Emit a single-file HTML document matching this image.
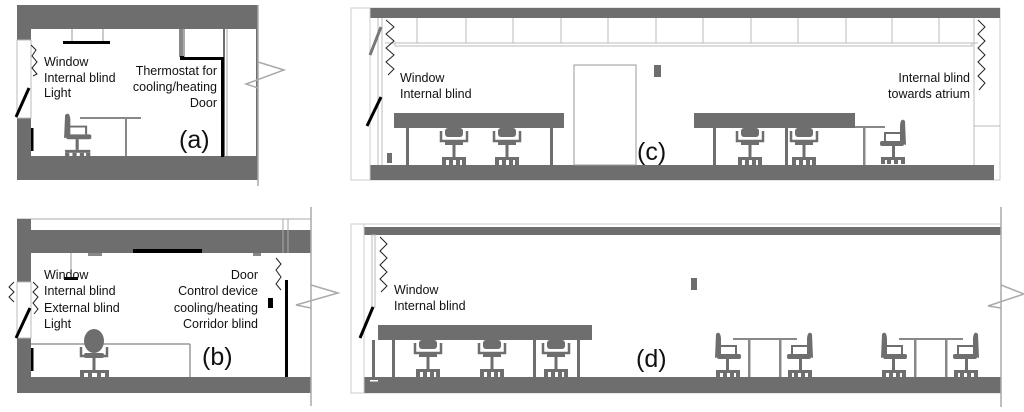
<!DOCTYPE html>
<html><head><meta charset="utf-8"><style>
html,body{margin:0;padding:0;background:#fff;}
svg{display:block;}
text{font-family:"Liberation Sans",Arial,sans-serif;fill:#111;}
.t{font-size:12.5px;}
.L{font-size:25px;}
</style></head><body>
<svg width="1024" height="412" viewBox="0 0 1024 412" xmlns="http://www.w3.org/2000/svg">
<defs>
<g id="cf" fill="#6e6e6e">
<rect x="6" y="0" width="18" height="9" rx="3"/>
<path d="M2,3 L2,13 L28,13 L28,3" fill="none" stroke="#6e6e6e" stroke-width="2.5"/>
<rect x="6" y="12" width="18" height="5"/>
<rect x="13.5" y="17" width="3" height="12"/>
<rect x="3" y="29" width="24" height="3"/>
<rect x="3" y="32" width="4" height="5"/><rect x="10" y="32" width="4" height="5"/><rect x="17" y="32" width="4" height="5"/><rect x="23" y="32" width="4" height="5"/>
</g>
<g id="cs" fill="#6e6e6e">
<path d="M2,2 Q6,-2 7,6 L7,24 L1,26 Z"/>
<path d="M6,14 L22,14 L22,22" fill="none" stroke="#6e6e6e" stroke-width="2"/>
<rect x="3" y="22" width="24" height="5" rx="2"/>
<rect x="12" y="27" width="3" height="11"/>
<rect x="2" y="38" width="24" height="3"/>
<rect x="2" y="41" width="4" height="4"/><rect x="9" y="41" width="4" height="4"/><rect x="16" y="41" width="4" height="4"/><rect x="22" y="41" width="4" height="4"/>
</g>
</defs>

<!-- ===== Panel (a) ===== -->
<rect x="17" y="5" width="241" height="175" fill="#6e6e6e"/>
<rect x="31" y="29" width="192" height="127" fill="#fff"/>
<rect x="225" y="29" width="31" height="127" fill="#fff"/>
<rect x="17" y="40" width="14" height="78" fill="#fff" stroke="#bbb" stroke-width="1"/>
<line x1="258" y1="5" x2="258" y2="186" stroke="#aaa" stroke-width="1.5"/>
<polyline points="258,62 284,70 246,84 258,88" fill="none" stroke="#aaa" stroke-width="1.5"/>
<line x1="72" y1="29" x2="72" y2="42" stroke="#999"/><line x1="103" y1="29" x2="103" y2="42" stroke="#999"/>
<rect x="63" y="41" width="47" height="3" fill="#000"/>
<polyline points="31,45 36,50 32,56 37,62 32,68 37,74 33,76" fill="none" stroke="#222" stroke-width="1"/>
<line x1="29" y1="88" x2="16" y2="117" stroke="#000" stroke-width="3"/>
<rect x="31" y="128" width="2.5" height="23" fill="#000"/>
<rect x="179" y="29" width="4" height="28" fill="#888"/>
<rect x="183" y="29" width="2" height="30" fill="#aaa"/>
<rect x="180" y="56" width="4" height="4" fill="#000"/>
<rect x="184" y="57" width="40" height="3" fill="#000"/>
<rect x="221" y="57" width="3" height="100" fill="#000"/>
<line x1="227" y1="29" x2="227" y2="156" stroke="#aaa"/>
<line x1="80" y1="118" x2="141" y2="118" stroke="#888" stroke-width="2"/>
<line x1="126" y1="118" x2="126" y2="156" stroke="#888" stroke-width="2"/>
<use href="#cs" transform="translate(63,113) scale(1.05,0.97)"/>
<text class="t" x="44" y="66">Window</text>
<text class="t" x="44" y="82">Internal blind</text>
<text class="t" x="44" y="97">Light</text>
<text class="t" x="217" y="75" text-anchor="end">Thermostat for</text>
<text class="t" x="217" y="91" text-anchor="end">cooling/heating</text>
<text class="t" x="217" y="107" text-anchor="end">Door</text>
<text class="L" x="179" y="148">(a)</text>

<!-- ===== Panel (b) ===== -->
<line x1="17" y1="219" x2="311" y2="219" stroke="#aaa"/>
<rect x="17" y="219" width="14" height="174" fill="#6e6e6e"/>
<rect x="31" y="230" width="280" height="23" fill="#6e6e6e"/>
<rect x="17" y="377" width="294" height="16" fill="#6e6e6e"/>
<rect x="17" y="282" width="14" height="56" fill="#fff" stroke="#bbb"/>
<line x1="283" y1="219" x2="283" y2="253" stroke="#aaa"/><line x1="288" y1="219" x2="288" y2="253" stroke="#aaa"/>
<line x1="311" y1="207" x2="311" y2="406" stroke="#aaa" stroke-width="1.5"/>
<polyline points="311,285 338,293 296,305 311,308" fill="none" stroke="#aaa" stroke-width="1.5"/>
<rect x="133" y="249" width="69" height="4" fill="#000"/>
<rect x="88" y="253" width="14" height="3" fill="#888"/><rect x="253" y="253" width="8" height="3" fill="#888"/>
<line x1="71" y1="253" x2="71" y2="277" stroke="#999"/>
<rect x="64" y="277" width="14" height="3" fill="#000"/>
<polyline points="14,282 9,287 14,292 9,297 14,302" fill="none" stroke="#222"/>
<polyline points="33,282 38,287 33,292 38,297 33,303 38,309 34,314" fill="none" stroke="#222"/>
<polyline points="276,258 281,264 276,270 281,277 276,284 281,290" fill="none" stroke="#222"/>
<rect x="285" y="280" width="3" height="97" fill="#000"/>
<rect x="268" y="298" width="5" height="10" fill="#000"/>
<line x1="30" y1="308" x2="16" y2="338" stroke="#000" stroke-width="3"/>
<rect x="31" y="348" width="2.5" height="23" fill="#000"/>
<line x1="31" y1="344" x2="190" y2="344" stroke="#999" stroke-width="1.5"/>
<line x1="190" y1="344" x2="190" y2="377" stroke="#999" stroke-width="1.5"/>
<g fill="#6e6e6e">
<ellipse cx="94" cy="341" rx="10" ry="12"/>
<path d="M81,347 L81,356 L107,356 L107,347" fill="none" stroke="#6e6e6e" stroke-width="2.5"/>
<rect x="84" y="353" width="20" height="5" rx="2"/>
<rect x="92.5" y="358" width="3" height="12"/>
<rect x="80" y="370" width="29" height="3"/>
<rect x="80" y="373" width="4" height="4"/><rect x="88" y="373" width="4" height="4"/><rect x="97" y="373" width="4" height="4"/><rect x="105" y="373" width="4" height="4"/>
</g>
<text class="t" x="44" y="279">Window</text>
<text class="t" x="44" y="295">Internal blind</text>
<text class="t" x="44" y="312">External blind</text>
<text class="t" x="44" y="328">Light</text>
<text class="t" x="258" y="279" text-anchor="end">Door</text>
<text class="t" x="258" y="295" text-anchor="end">Control device</text>
<text class="t" x="258" y="312" text-anchor="end">cooling/heating</text>
<text class="t" x="258" y="328" text-anchor="end">Corridor blind</text>
<text class="L" x="202" y="365">(b)</text>

<!-- ===== Panel (c) ===== -->
<rect x="351" y="8" width="649" height="172" fill="#fff" stroke="#ccc"/>
<rect x="370" y="8" width="630" height="10" fill="#6e6e6e"/>
<rect x="370" y="165" width="624" height="15" fill="#6e6e6e"/>
<line x1="370" y1="8" x2="370" y2="180" stroke="#ccc"/>
<g stroke="#bbb" stroke-width="1">
<line x1="385" y1="43" x2="978" y2="43"/>
<line x1="417" y1="18" x2="417" y2="43"/><line x1="466" y1="18" x2="466" y2="43"/><line x1="513" y1="18" x2="513" y2="43"/><line x1="561" y1="18" x2="561" y2="43"/><line x1="608" y1="18" x2="608" y2="43"/><line x1="656" y1="18" x2="656" y2="43"/><line x1="703" y1="18" x2="703" y2="43"/><line x1="751" y1="18" x2="751" y2="43"/><line x1="798" y1="18" x2="798" y2="43"/><line x1="846" y1="18" x2="846" y2="43"/><line x1="892" y1="18" x2="892" y2="43"/><line x1="939" y1="18" x2="939" y2="43"/>
<line x1="974" y1="18" x2="974" y2="165"/><line x1="974" y1="126" x2="1000" y2="126"/>
<line x1="378" y1="18" x2="378" y2="165"/><line x1="382" y1="18" x2="382" y2="165"/>
</g>
<rect x="395" y="43" width="577" height="3" fill="#fff" stroke="#bbb"/>
<polyline points="386,20 394,27 386,34 394,41 386,48 394,55 386,62 394,69 388,75" fill="none" stroke="#222"/>
<polyline points="978,20 985,27 978,34 985,41 978,48 985,55 978,62 985,69 978,76 985,83 979,90" fill="none" stroke="#222"/>
<line x1="381" y1="27" x2="370" y2="55" stroke="#777" stroke-width="3"/>
<line x1="381" y1="97" x2="367" y2="126" stroke="#000" stroke-width="3"/>
<rect x="387" y="153" width="5" height="10" fill="#6e6e6e"/>
<rect x="574" y="65" width="62" height="100" fill="#fff" stroke="#999"/>
<rect x="654" y="65" width="7" height="12" fill="#6e6e6e"/>
<rect x="394" y="113" width="170" height="15" fill="#6e6e6e"/>
<rect x="406" y="128" width="3" height="37" fill="#6e6e6e"/><rect x="550" y="128" width="3" height="37" fill="#6e6e6e"/>
<use href="#cf" x="439" y="128"/><use href="#cf" x="492" y="128"/>
<rect x="694" y="113" width="161" height="15" fill="#6e6e6e"/>
<line x1="855" y1="127" x2="885" y2="127" stroke="#888" stroke-width="2"/>
<rect x="713" y="128" width="3" height="37" fill="#6e6e6e"/><rect x="785" y="128" width="3" height="37" fill="#6e6e6e"/><rect x="863" y="127" width="2.5" height="38" fill="#888"/>
<use href="#cf" x="735" y="128"/><use href="#cf" x="789" y="128"/>
<use href="#cs" transform="translate(907,119) scale(-1,1)"/>
<text class="t" x="400" y="82">Window</text>
<text class="t" x="400" y="98">Internal blind</text>
<text class="t" x="970" y="82" text-anchor="end">Internal blind</text>
<text class="t" x="970" y="98" text-anchor="end">towards atrium</text>
<text class="L" x="637" y="160">(c)</text>

<!-- ===== Panel (d) ===== -->
<rect x="351" y="224" width="650" height="169" fill="#fff" stroke="#ccc"/>
<rect x="364" y="227" width="637" height="8" fill="#6e6e6e"/>
<rect x="364" y="377" width="637" height="16" fill="#6e6e6e"/>
<line x1="364" y1="224" x2="364" y2="393" stroke="#ccc"/>
<line x1="1001" y1="207" x2="1001" y2="407" stroke="#aaa" stroke-width="1.5"/>
<polyline points="1001,285 1024,294 988,306 1001,308" fill="none" stroke="#aaa" stroke-width="1.5"/>
<rect x="372" y="235" width="3" height="72" fill="#fff" stroke="#bbb"/>
<rect x="372" y="340" width="3" height="37" fill="#6e6e6e"/>
<rect x="370" y="380" width="8" height="1.5" fill="#fff"/>
<polyline points="380,237 387,244 380,251 387,258 380,265 387,272 380,279 387,286 381,292" fill="none" stroke="#222"/>
<line x1="373" y1="307" x2="360" y2="338" stroke="#000" stroke-width="3"/>
<rect x="691" y="278" width="6" height="12" fill="#6e6e6e"/>
<rect x="378" y="325" width="214" height="15" fill="#6e6e6e"/>
<rect x="392" y="340" width="3" height="37" fill="#6e6e6e"/><rect x="533" y="340" width="3" height="37" fill="#6e6e6e"/><rect x="577" y="340" width="3" height="37" fill="#6e6e6e"/>
<use href="#cf" x="413" y="340"/><use href="#cf" x="477" y="340"/><use href="#cf" x="541" y="340"/>
<line x1="733" y1="339" x2="797" y2="339" stroke="#888" stroke-width="2"/>
<rect x="748" y="339" width="2.5" height="38" fill="#888"/><rect x="779" y="339" width="2.5" height="38" fill="#888"/>
<line x1="899" y1="339" x2="963" y2="339" stroke="#888" stroke-width="2"/>
<rect x="914" y="339" width="2.5" height="38" fill="#888"/><rect x="945" y="339" width="2.5" height="38" fill="#888"/>
<use href="#cs" x="714" y="332"/>
<use href="#cs" transform="translate(814,332) scale(-1,1)"/>
<use href="#cs" x="880" y="332"/>
<use href="#cs" transform="translate(980,332) scale(-1,1)"/>
<text class="t" x="394" y="294">Window</text>
<text class="t" x="394" y="310">Internal blind</text>
<text class="L" x="636" y="367">(d)</text>
</svg>
</body></html>
